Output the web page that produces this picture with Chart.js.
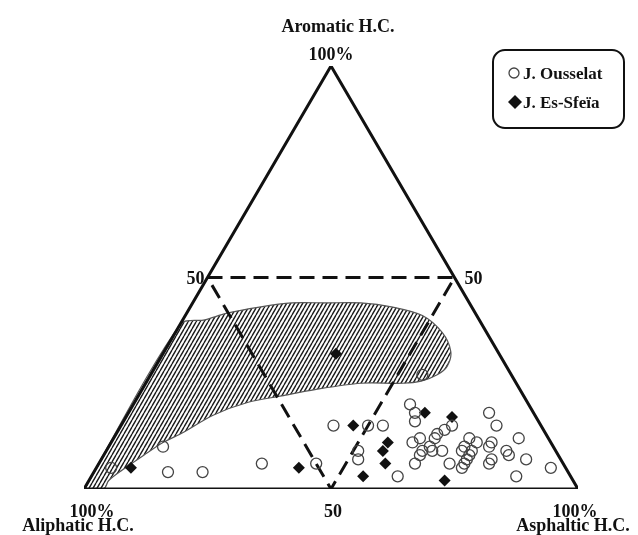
<!DOCTYPE html>
<html>
<head>
<meta charset="utf-8">
<script src="https://cdn.jsdelivr.net/npm/chart.js@4.4.0/dist/chart.umd.min.js"></script>
<style>
body{margin:0;background:#fff;}
#wrap{position:relative;width:638px;height:535px;}
</style>
</head>
<body>
<div id="wrap"><canvas id="mycanvas"></canvas></div>
<script>
// ternary values: aromatic %, asphaltic % (aliphatic = the rest)
var ousselatArom = [5, 10, 4, 4, 6, 6, 15, 9, 7, 27, 20, 18, 16, 15, 15, 11, 12, 9, 10, 9, 8, 6, 12, 13, 14, 15, 9, 6, 9, 10, 12, 11, 9, 8, 7, 6, 5, 18, 15, 11, 10, 7, 6, 9, 8, 12, 7, 3, 5, 3];
var ousselatAsph = [3, 11, 15, 22, 33, 44, 43, 51, 52, 55, 56, 58, 59, 50, 53, 61, 62, 66, 65, 64, 64, 64, 65, 65, 66, 67, 68, 71, 72, 72, 72, 74, 74, 74, 74, 74, 74, 73, 76, 77, 77, 79, 79, 81, 82, 82, 86, 86, 92, 62];

var sfeiaArom = [5, 32, 5, 15, 18, 17, 11, 9, 6, 3, 2];
var sfeiaAsph = [7, 35, 41, 47, 60, 66, 56, 56, 58, 55, 72];

// outline of the hatched field
var fieldArom = [0, 39, 40, 41.5, 43, 44, 44, 44, 43, 41, 37, 32.5, 29, 27, 25.5, 25, 25, 23.5, 22, 20.5, 17.5, 13, 11, 8.5, 4.5, 2, 0, 0];
var fieldAsph = [0, 0, 4.5, 8, 14, 20, 27, 34, 41, 48, 54, 58, 59, 58, 55.5, 52, 43.5, 35, 29, 23, 17.5, 13, 10.5, 8.5, 5.5, 4, 4, 0];

var frameArom = [0, 0, 100, 0];
var frameAsph = [0, 100, 0, 0];
var dashArom = [50, 50, 0, 50];
var dashAsph = [0, 50, 50, 0];

var seriesNames = ['J. Ousselat', 'J. Es-Sfeïa'];
var cornerNames = ['Aromatic H.C.', 'Aliphatic H.C.', 'Asphaltic H.C.'];
var tickLabels = ['100%', '50'];

function tern(arom, asph) {
	var out = [];
	for (var i in arom) {
		out.push({x: asph[i] + arom[i] / 2, y: arom[i]});
	}
	return out;
}

function hatch() {
	var c = document.createElement('canvas');
	c.width = 4; c.height = 7;
	var g = c.getContext('2d');
	g.strokeStyle = '#1a1a1a';
	g.lineWidth = 1.4;
	g.beginPath();
	for (var k = -1; k <= 1; k++) {
		g.moveTo(k * 4, 7);
		g.lineTo(k * 4 + 4, 0);
	}
	g.stroke();
	return g.createPattern(c, 'repeat');
}

var textPlugin = {
	id: 'ternaryText',
	afterDraw: function(chart) {
		var ctx = chart.ctx, xs = chart.scales.x, ys = chart.scales.y;
		function p(arom, asph) {
			return [xs.getPixelForValue(asph + arom / 2), ys.getPixelForValue(arom)];
		}
		ctx.save();
		ctx.fillStyle = '#111';
		ctx.font = 'bold 18px "Liberation Serif"';
		ctx.textAlign = 'center';
		var top = p(100, 0), left = p(0, 0), right = p(0, 100);
		ctx.fillText(cornerNames[0], top[0] + 7, top[1] - 34);
		ctx.fillText(tickLabels[0], top[0], top[1] - 6);
		ctx.fillText(tickLabels[0], left[0] + 8, left[1] + 28);
		ctx.fillText(cornerNames[1], left[0] - 6, left[1] + 42);
		ctx.fillText(tickLabels[0], right[0] - 3, right[1] + 28);
		ctx.fillText(cornerNames[2], right[0] - 5, right[1] + 42);
		var bm = p(0, 50);
		ctx.fillText(tickLabels[1], bm[0] + 2, bm[1] + 28);
		var lm = p(50, 0), rm = p(50, 50);
		ctx.textAlign = 'right';
		ctx.fillText(tickLabels[1], lm[0] - 3, lm[1] + 6);
		ctx.textAlign = 'left';
		ctx.fillText(tickLabels[1], rm[0] + 10, rm[1] + 6);

		// legend box
		var bx = 493, by = 50, bw = 131, bh = 78, r = 12;
		ctx.beginPath();
		ctx.moveTo(bx + r, by);
		ctx.arcTo(bx + bw, by, bx + bw, by + bh, r);
		ctx.arcTo(bx + bw, by + bh, bx, by + bh, r);
		ctx.arcTo(bx, by + bh, bx, by, r);
		ctx.arcTo(bx, by, bx + bw, by, r);
		ctx.closePath();
		ctx.lineWidth = 2;
		ctx.strokeStyle = '#111';
		ctx.stroke();

		ctx.beginPath();
		ctx.arc(514, 73, 5, 0, Math.PI * 2);
		ctx.lineWidth = 1.3;
		ctx.strokeStyle = '#444';
		ctx.stroke();
		ctx.beginPath();
		ctx.moveTo(515, 95); ctx.lineTo(522, 102); ctx.lineTo(515, 109); ctx.lineTo(508, 102);
		ctx.closePath();
		ctx.fillStyle = '#111';
		ctx.fill();
		ctx.font = 'bold 17px "Liberation Serif"';
		ctx.textAlign = 'left';
		ctx.fillText(seriesNames[0], 523, 79);
		ctx.fillText(seriesNames[1], 523, 108);
		ctx.restore();
	}
};

var ctx = document.getElementById('mycanvas');
var chart = new Chart(ctx, {
	type: 'scatter',
	data: {
		datasets: [
			{
				label: seriesNames[0],
				data: tern(ousselatArom, ousselatAsph),
				pointStyle: 'circle',
				radius: 5.5,
				backgroundColor: 'rgba(255,255,255,0)',
				borderColor: '#444',
				borderWidth: 1.3,
				order: 0
			},
			{
				label: seriesNames[1],
				data: tern(sfeiaArom, sfeiaAsph),
				pointStyle: 'rectRot',
				radius: 6,
				backgroundColor: '#111',
				borderColor: '#111',
				borderWidth: 0,
				order: 0
			},
			{
				label: 'frame',
				data: tern(frameArom, frameAsph),
				showLine: true,
				pointRadius: 0,
				borderColor: '#111',
				borderWidth: 3,
				borderJoinStyle: 'miter',
				fill: false,
				order: 1
			},
			{
				label: 'dash',
				data: tern(dashArom, dashAsph),
				showLine: true,
				pointRadius: 0,
				borderColor: '#111',
				borderWidth: 3,
				borderDash: [15, 8],
				fill: false,
				order: 2
			},
			{
				label: 'field',
				data: tern(fieldArom, fieldAsph),
				showLine: true,
				pointRadius: 0,
				borderColor: '#555',
				borderWidth: 1.2,
				backgroundColor: hatch(),
				fill: 'shape',
				tension: 0.3,
				order: 3
			}
		]
	},
	options: {
		responsive: true,
		maintainAspectRatio: false,
		animation: false,
		layout: {padding: {left: 84, right: 60, top: 66, bottom: 46}},
		scales: {
			x: {type: 'linear', min: 0, max: 100, display: false},
			y: {type: 'linear', min: 0, max: 100, display: false}
		},
		plugins: {
			legend: {display: false},
			tooltip: {enabled: false}
		}
	},
	plugins: [textPlugin]
});
</script>
</body>
</html>
